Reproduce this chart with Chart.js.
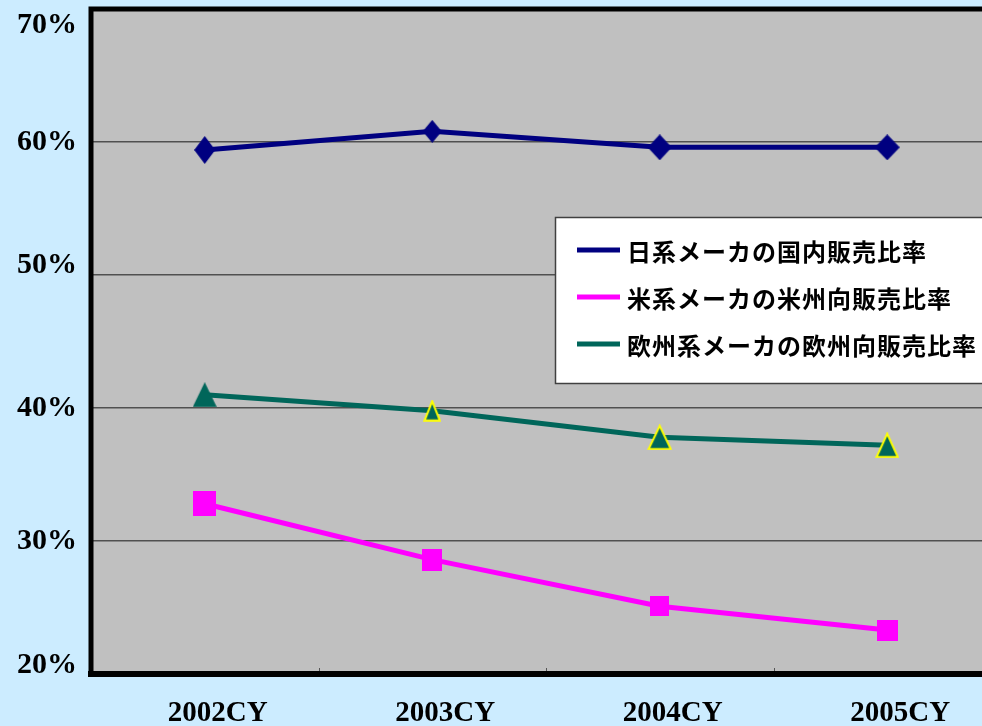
<!DOCTYPE html>
<html>
<head>
<meta charset="utf-8">
<script src="https://cdn.jsdelivr.net/npm/chart.js@4"></script>
<style>
html,body{margin:0;padding:0;background:#CCECFF;overflow:hidden;width:982px;height:726px;}
#wrap{position:absolute;left:0;top:0;width:1010px;height:726px;}
</style>
</head>
<body>
<div id="wrap"><canvas id="c" width="1010" height="726"></canvas></div>
<script>
// ---- data ----
const categories = ['2002CY', '2003CY', '2004CY', '2005CY'];
const jpDomestic = [59.4, 60.8, 59.6, 59.6];   // 日系メーカの国内販売比率
const usAmerica  = [32.8, 28.6, 25.1, 23.3];   // 米系メーカの米州向販売比率
const euEurope   = [41.0, 39.8, 37.8, 37.2];   // 欧州系メーカの欧州向販売比率
const seriesLabels = ['日系メーカの国内販売比率', '米系メーカの米州向販売比率', '欧州系メーカの欧州向販売比率'];
const yMin = 20, yMax = 70, yStep = 10;

// label vertical nudges (px, + = down) mimicking the original rendering
const yLabelNudge = { 70: 16, 50: -10, 20: -9 };

// ---- marker images ----
function mk(w, h, draw) {
  const c = document.createElement('canvas');
  c.width = w; c.height = h;
  draw(c.getContext('2d'), w, h);
  return c;
}
function diamond(w, h, col) {
  return mk(w, h, (g) => { g.fillStyle = col; g.beginPath(); g.moveTo(w/2,0); g.lineTo(w,h/2); g.lineTo(w/2,h); g.lineTo(0,h/2); g.closePath(); g.fill(); });
}
function square(w, h, col) {
  return mk(w, h, (g) => { g.fillStyle = col; g.fillRect(0,0,w,h); });
}
function triangle(w, h, col, stroke) {
  return mk(w, h, (g) => {
    const lw = stroke ? 2 : 0;
    g.beginPath(); g.moveTo(w/2, lw*0.8); g.lineTo(w-lw*0.7, h-lw/2-0.2); g.lineTo(lw*0.7, h-lw/2-0.2); g.closePath();
    g.fillStyle = col; g.fill();
    if (stroke) { g.strokeStyle = stroke; g.lineWidth = lw; g.lineJoin = 'miter'; g.stroke(); }
  });
}
const NAVY = '#000080', MAG = '#FF00FF', TEAL = '#00665A';
const diamonds = [diamond(21,28,NAVY), diamond(19,23,NAVY), diamond(24,26,NAVY), diamond(25,26,NAVY)];
const squares = [square(23,25,MAG), square(20,22,MAG), square(19,20,MAG), square(21,21,MAG)];
const tris = [triangle(24,25,TEAL,null), triangle(18,22,TEAL,'#FFFF00'), triangle(25,26,TEAL,'#FFFF00'), triangle(24,26,TEAL,'#FFFF00')];

// ---- plugins ----
const bgPlugin = {
  id: 'bg',
  beforeDraw(chart) {
    const {ctx, chartArea: a} = chart;
    ctx.save();
    ctx.fillStyle = '#CCECFF';
    ctx.fillRect(0, 0, chart.width, chart.height);
    ctx.fillStyle = '#C0C0C0';
    ctx.fillRect(a.left, a.top, a.right - a.left, a.bottom - a.top);
    ctx.restore();
  },
  beforeDatasetsDraw(chart) {
    const {ctx, chartArea: a} = chart;
    const xs = chart.scales.x;
    ctx.save();
    ctx.strokeStyle = '#555';
    ctx.lineWidth = 1;
    for (let i = 1; i < categories.length; i++) {
      const x = Math.round((xs.getPixelForValue(i - 1) + xs.getPixelForValue(i)) / 2) + 0.5;
      ctx.beginPath(); ctx.moveTo(x, a.bottom); ctx.lineTo(x, a.bottom - 6); ctx.stroke();
    }
    ctx.strokeStyle = '#000';
    ctx.lineCap = 'square';
    ctx.lineWidth = 5;
    ctx.beginPath(); ctx.moveTo(a.right + 10, a.top); ctx.lineTo(a.left, a.top); ctx.lineTo(a.left, a.bottom); ctx.stroke();
    ctx.lineWidth = 6;
    ctx.beginPath(); ctx.moveTo(a.left, a.bottom); ctx.lineTo(a.right + 10, a.bottom); ctx.stroke();
    ctx.restore();
  },
  afterDatasetsDraw(chart) {
    const {ctx} = chart;
    ctx.save();
    const bx = 555.5, by = 217.5, bw = 440, bh = 166;
    ctx.fillStyle = '#FFFFFF';
    ctx.fillRect(bx, by, bw, bh);
    ctx.strokeStyle = '#404040';
    ctx.lineWidth = 1.5;
    ctx.strokeRect(bx, by, bw, bh);
    chart.data.datasets.forEach((ds, i) => {
      const y = 250 + i * 47;
      ctx.strokeStyle = ds.borderColor;
      ctx.lineWidth = 5;
      ctx.beginPath(); ctx.moveTo(577, y); ctx.lineTo(620, y); ctx.stroke();
      ctx.fillStyle = '#000';
      ctx.font = 'bold 24px "Noto Sans CJK JP"';
      ctx.letterSpacing = '1px';
      ctx.textBaseline = 'middle';
      ctx.textAlign = 'left';
      ctx.fillText(ds.label, 627, y + 2);
    });
    ctx.restore();
  }
};

new Chart(document.getElementById('c'), {
  type: 'line',
  data: {
    labels: categories,
    datasets: [
      { label: seriesLabels[0], data: jpDomestic, borderColor: NAVY, backgroundColor: NAVY, borderWidth: 5, pointStyle: diamonds, tension: 0 },
      { label: seriesLabels[1], data: usAmerica, borderColor: MAG, backgroundColor: MAG, borderWidth: 5, pointStyle: squares, tension: 0 },
      { label: seriesLabels[2], data: euEurope, borderColor: TEAL, backgroundColor: TEAL, borderWidth: 5, pointStyle: tris, tension: 0 }
    ]
  },
  options: {
    responsive: false,
    devicePixelRatio: 1,
    animation: false,
    layout: { padding: { left: 0, top: 9, right: 6, bottom: 0 } },
    plugins: { legend: { display: false }, tooltip: { enabled: false } },
    scales: {
      x: {
        offset: true,
        grid: { display: false },
        border: { display: false },
        afterFit(s) { s.height = 52; s.paddingLeft = 0; s.paddingRight = 0; },
        ticks: { color: '#000', padding: 17, labelOffset: 13, font: { family: '"Liberation Serif"', size: 29, weight: 'bold', lineHeight: 1 }, maxRotation: 0 }
      },
      y: {
        min: yMin, max: yMax,
        afterFit(s) { s.width = 91; s.paddingTop = 0; s.paddingBottom = 0; },
        grid: { color: '#505050', lineWidth: 1.5, drawTicks: false },
        border: { display: false },
        ticks: {
          stepSize: yStep, color: '#000', padding: 14,
          font: (c) => {
            const n = c.tick ? yLabelNudge[c.tick.value] : undefined;
            return { family: '"Liberation Serif"', size: 30, weight: 'bold', lineHeight: n ? (2 * Math.abs(n)) + 'px' : 1.2 };
          },
          callback: (v) => {
            const n = yLabelNudge[v];
            const t = v + '%';
            if (!n) return t;
            return n > 0 ? ['', t] : [t, ''];
          }
        }
      }
    }
  },
  plugins: [bgPlugin]
});
</script>
</body>
</html>
